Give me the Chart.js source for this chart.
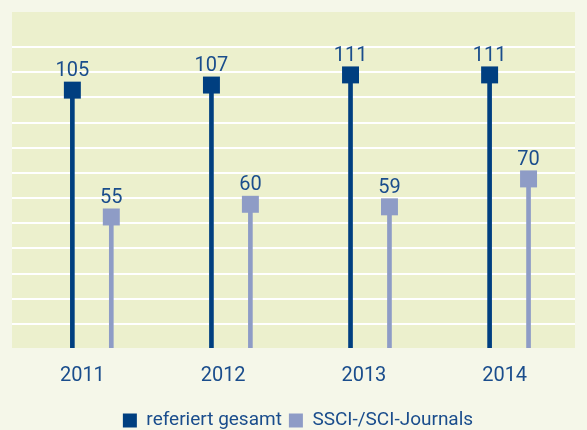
<!DOCTYPE html>
<html>
<head>
<meta charset="utf-8">
<script src="https://cdn.jsdelivr.net/npm/chart.js@4/dist/chart.umd.min.js"></script>
<style>
  html, body { margin: 0; padding: 0; background: #f5f7e9; }
  #wrap { width: 587px; height: 430px; }
</style>
</head>
<body>
<div id="wrap"><canvas id="chart"></canvas></div>
<script>
const years = ["2011", "2012", "2013", "2014"];
const seriesNames = ["referiert gesamt", "SSCI-/SCI-Journals"];
const referiertGesamt = [105, 107, 111, 111];
const ssciJournals = [55, 60, 59, 70];

const DARK = "#003f80";
const LIGHT = "#8e9cc6";
const TEXT = "#1a4d8c";
const PLOT_BG = "#ecf0cd";
const FONT = '"Roboto", sans-serif';

// stems sit a bit left / right of each year slot
const pairOffset = 0.14;
const toPoints = (vals, dx) => vals.map((v, i) => ({ x: i + dx, y: v }));

const plotBg = {
  id: "plotBg",
  beforeDraw(chart) {
    const { ctx, chartArea: a } = chart;
    ctx.save();
    ctx.fillStyle = PLOT_BG;
    ctx.fillRect(a.left, a.top, a.right - a.left, a.bottom - a.top);
    ctx.restore();
  }
};

const valueLabels = {
  id: "valueLabels",
  afterDatasetsDraw(chart) {
    const { ctx } = chart;
    ctx.save();
    ctx.font = "20px " + FONT;
    ctx.fillStyle = TEXT;
    ctx.textAlign = "center";
    ctx.textBaseline = "alphabetic";
    chart.data.datasets.forEach((ds, i) => {
      if (ds.type !== "scatter") return;
      chart.getDatasetMeta(i).data.forEach((pt, j) => {
        ctx.fillText(String(ds.data[j].y), pt.x, pt.y - 14);
      });
    });
    ctx.restore();
  }
};

new Chart(document.getElementById("chart"), {
  type: "bar",
  data: {
    datasets: [
      { type: "scatter", label: seriesNames[0], data: toPoints(referiertGesamt, -pairOffset),
        pointStyle: "rect", pointRadius: 12, backgroundColor: DARK, borderWidth: 0, order: 0 },
      { type: "scatter", label: seriesNames[1], data: toPoints(ssciJournals, pairOffset),
        pointStyle: "rect", pointRadius: 12, backgroundColor: LIGHT, borderWidth: 0, order: 0 },
      { type: "bar", label: "stem1", data: toPoints(referiertGesamt, -pairOffset),
        backgroundColor: DARK, barThickness: 4, grouped: false, order: 1 },
      { type: "bar", label: "stem2", data: toPoints(ssciJournals, pairOffset),
        backgroundColor: LIGHT, barThickness: 4, grouped: false, order: 1 }
    ]
  },
  options: {
    responsive: true,
    maintainAspectRatio: false,
    animation: false,
    events: [],
    layout: { padding: { left: 9, top: 12, right: 0, bottom: -10 } },
    scales: {
      x: { type: "linear", display: false, offset: false, min: -0.574, max: 3.474 },
      years: {
        type: "category", labels: years, position: "bottom", offset: true,
        grid: { display: false, drawTicks: false }, border: { display: false },
        ticks: { color: TEXT, font: { family: FONT, size: 20 }, padding: 16 },
        afterFit(scale) { scale.height = 56; }
      },
      y: {
        min: 3.35, max: 135.8,
        border: { display: false },
        grid: { color: "#ffffff", lineWidth: 2, drawTicks: false },
        ticks: { display: false },
        afterBuildTicks(scale) {
          const ticks = [];
          for (let v = 12.8; v < 130; v += 9.93) ticks.push({ value: v });
          scale.ticks = ticks;
        }
      }
    },
    plugins: {
      tooltip: { enabled: false },
      legend: {
        position: "bottom",
        labels: {
          filter: item => item.text === seriesNames[0] || item.text === seriesNames[1],
          boxWidth: 14, boxHeight: 14, padding: 7,
          color: TEXT, font: { family: FONT, size: 19 }
        }
      }
    }
  },
  plugins: [plotBg, valueLabels]
});
</script>
</body>
</html>
